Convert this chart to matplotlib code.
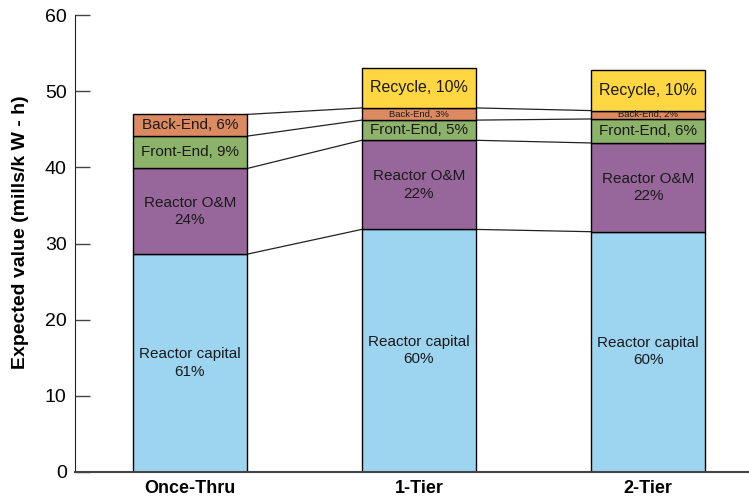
import matplotlib
matplotlib.use("Agg")
import matplotlib.pyplot as plt
import numpy as np

plt.rcParams['font.family'] = ['Liberation Sans', 'DejaVu Sans']

categories = ["Once-Thru", "1-Tier", "2-Tier"]
segments = ["Reactor capital", "Reactor O&M", "Front-End", "Back-End", "Recycle"]
capital = [28.6, 31.85, 31.55]
om = [11.25, 11.7, 11.65]
front_end = [4.25, 2.65, 3.15]
back_end = [2.85, 1.6, 1.1]
recycle = [0.0, 5.25, 5.3]
colors = ["#9DD5F1", "#97679B", "#8DB36A", "#DC8A62", "#FFD743"]

labels = [
    ["Reactor capital\n61%", "Reactor O&M\n24%", "Front-End, 9%", "Back-End, 6%", None],
    ["Reactor capital\n60%", "Reactor O&M\n22%", "Front-End, 5%", "Back-End, 3%", "Recycle, 10%"],
    ["Reactor capital\n60%", "Reactor O&M\n22%", "Front-End, 6%", "Back-End, 2%", "Recycle, 10%"],
]
label_sizes = [11, 11, 11, [11, 6.8, 6.8], 11.5]

series = [capital, om, front_end, back_end, recycle]

fig = plt.figure(figsize=(7.49, 4.96), dpi=100)
ax = fig.add_axes([75/749, 24/496, 674/749, 457/496])

x = np.arange(len(categories))
width = 0.5
bottoms = np.zeros(len(categories))
tops_all = []
for si, vals in enumerate(series):
    vals = np.array(vals)
    for i in range(len(categories)):
        if vals[i] <= 0:
            continue
        ax.bar(x[i], vals[i], width, bottom=bottoms[i], color=colors[si],
               edgecolor="black", linewidth=1.0, zorder=2)
        lab = labels[i][si]
        if lab:
            fs = label_sizes[si]
            if isinstance(fs, list):
                fs = fs[i]
            ax.text(x[i], bottoms[i] + vals[i] / 2, lab, ha="center", va="center",
                    fontsize=fs, color="#1a1a1a", linespacing=1.3, zorder=3)
    bottoms = bottoms + vals
    tops_all.append(bottoms.copy())

# connector lines between corresponding segment tops (capital..back-end)
for si in range(4):
    tops = tops_all[si]
    for i in range(len(categories) - 1):
        ax.plot([x[i] + width / 2, x[i + 1] - width / 2], [tops[i], tops[i + 1]],
                color="#222222", linewidth=0.9, zorder=1)

ax.set_ylim(0, 60)
ax.set_xlim(-0.502, 2.441)
ax.set_yticks(range(0, 61, 10))
ax.set_xticks(x)
ax.set_xticklabels(categories, fontsize=13, fontweight="bold")
ax.tick_params(axis="x", length=0, pad=6)
ax.tick_params(axis="y", direction="in", length=11, width=1.0, color="#444444",
               labelsize=14, pad=6)
for s in ["top", "right"]:
    ax.spines[s].set_visible(False)
ax.spines["left"].set_color("#222222")
ax.spines["bottom"].set_color("#444444")
ax.spines["bottom"].set_linewidth(1.5)
ax.set_ylabel("Expected value (mills/k W - h)", fontsize=14, fontweight="bold")
ax.yaxis.set_label_coords(-0.068, 0.525)

fig.savefig("out.png", dpi=100)
